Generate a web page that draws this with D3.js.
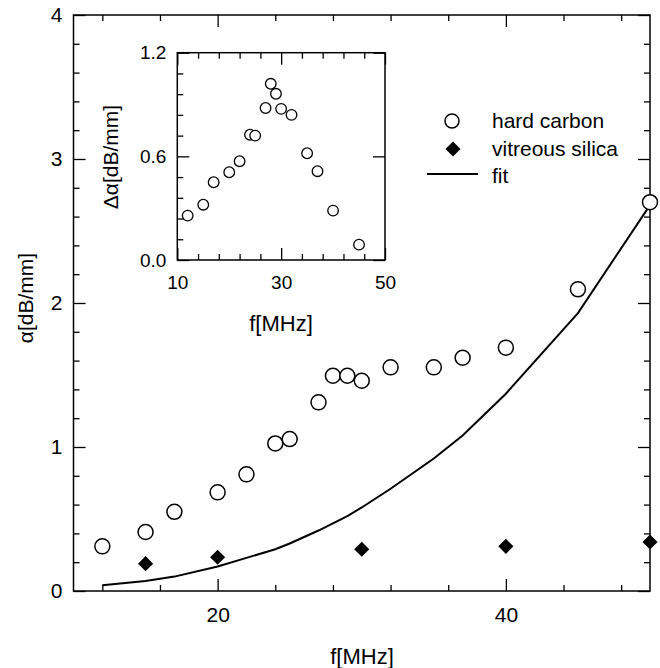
<!DOCTYPE html>
<html>
<head>
<meta charset="utf-8">
<script src="https://cdn.jsdelivr.net/npm/d3@7"></script>
<style>
  body { margin: 0; background: #fff; }
  svg { display: block; font-family: "Liberation Sans", Arial, Helvetica, sans-serif; }
  .domain { display: none; }
</style>
</head>
<body>
<svg id="chart" width="660" height="668"></svg>
<script>
// main plot: hard carbon (circles), vitreous silica (diamonds), fit (line)
const freqCarbon  = [12, 15, 17, 20, 22, 24, 25, 27, 28, 29, 30, 32, 35, 37, 40, 45, 50];
const alphaCarbon = [0.31, 0.41, 0.55, 0.685, 0.81, 1.025, 1.055, 1.31, 1.495, 1.495, 1.46, 1.553, 1.553, 1.62, 1.69, 2.095, 2.70];
const alphaFit    = [0.04, 0.07, 0.10, 0.17, 0.23, 0.29, 0.33, 0.42, 0.47, 0.52, 0.58, 0.71, 0.92, 1.08, 1.37, 1.93, 2.68];

const freqSilica  = [15, 20, 30, 40, 50];
const alphaSilica = [0.19, 0.234, 0.29, 0.31, 0.34];

// inset: delta alpha
const freqDelta  = [12, 15, 17, 20, 22, 24, 25, 27, 28, 29, 30, 32, 35, 37, 40, 45];
const deltaAlpha = [0.257, 0.32, 0.45, 0.508, 0.572, 0.725, 0.72, 0.88, 1.02, 0.962, 0.875, 0.84, 0.618, 0.514, 0.286, 0.089];

// ticks
const mainXMajor = [20, 40];
const mainXMinor = [12, 16, 24, 28, 32, 36, 44, 48];
const mainYMajor = [0, 1, 2, 3, 4];
const mainYMinor = [0.2, 0.4, 0.6, 0.8, 1.2, 1.4, 1.6, 1.8, 2.2, 2.4, 2.6, 2.8, 3.2, 3.4, 3.6, 3.8];
const insetXMajor = [10, 30, 50];
const insetXMinor = [14, 18, 22, 26, 34, 38, 42, 46];
const insetYMajor = [0.0, 0.6, 1.2];
const insetYMinor = [0.12, 0.24, 0.36, 0.48, 0.72, 0.84, 0.96, 1.08];

const legendItems = ["hard carbon", "vitreous silica", "fit"];

const svg = d3.select("#chart");

// 主图区域
const M = { left: 73.5, right: 650, top: 15, bottom: 591 };
const x = d3.scaleLinear().domain([10, 50]).range([M.left, M.right]);
const y = d3.scaleLinear().domain([0, 4]).range([M.bottom, M.top]);

// 插图区域
const I = { left: 177.3, right: 385, top: 52.7, bottom: 260 };
const xi = d3.scaleLinear().domain([10, 50]).range([I.left, I.right]);
const yi = d3.scaleLinear().domain([0, 1.2]).range([I.bottom, I.top]);

function styleAxis(g, size) {
    g.selectAll(".tick line").attr("stroke", "#000").attr("stroke-width", 1.3);
    g.selectAll(".tick text").attr("fill", "#000").attr("font-size", size)
        .attr("font-family", "Liberation Sans, Arial, Helvetica, sans-serif");
}

function drawAxes(X, Y, B, opts) {
    const fs = opts.fontSize;
    // bottom
    svg.append("g").attr("transform", `translate(0,${B.bottom})`)
        .call(d3.axisBottom(X).tickValues(opts.xMinor).tickSize(-opts.minor).tickFormat(""))
        .call(g => styleAxis(g, fs));
    svg.append("g").attr("transform", `translate(0,${B.bottom})`)
        .call(d3.axisBottom(X).tickValues(opts.xMajor).tickSize(-opts.major).tickPadding(opts.xPad).tickFormat(d3.format("d")))
        .call(g => styleAxis(g, fs));
    // top
    svg.append("g").attr("transform", `translate(0,${B.top})`)
        .call(d3.axisTop(X).tickValues(opts.xMinor).tickSize(-opts.minor).tickFormat(""))
        .call(g => styleAxis(g, fs));
    svg.append("g").attr("transform", `translate(0,${B.top})`)
        .call(d3.axisTop(X).tickValues(opts.xMajor).tickSize(-opts.major).tickFormat(""))
        .call(g => styleAxis(g, fs));
    // left
    svg.append("g").attr("transform", `translate(${B.left},0)`)
        .call(d3.axisLeft(Y).tickValues(opts.yMinor).tickSize(-opts.minor).tickFormat(""))
        .call(g => styleAxis(g, fs));
    svg.append("g").attr("transform", `translate(${B.left},0)`)
        .call(d3.axisLeft(Y).tickValues(opts.yMajor).tickSize(-opts.major).tickPadding(opts.yPad).tickFormat(opts.yFormat))
        .call(g => styleAxis(g, fs));
    // right
    if (opts.rightMinor) {
        svg.append("g").attr("transform", `translate(${B.right},0)`)
            .call(d3.axisRight(Y).tickValues(opts.yMinor).tickSize(-opts.minor).tickFormat(""))
            .call(g => styleAxis(g, fs));
    }
    svg.append("g").attr("transform", `translate(${B.right},0)`)
        .call(d3.axisRight(Y).tickValues(opts.yMajor).tickSize(-opts.major).tickFormat(""))
        .call(g => styleAxis(g, fs));
    // frame
    svg.append("rect")
        .attr("x", B.left).attr("y", B.top)
        .attr("width", B.right - B.left).attr("height", B.bottom - B.top)
        .attr("fill", "none").attr("stroke", "#000").attr("stroke-width", 1.5);
}

drawAxes(x, y, M, {
    xMajor: mainXMajor, xMinor: mainXMinor, yMajor: mainYMajor, yMinor: mainYMinor,
    minor: 6, major: 12, xPad: 16, yPad: 11, fontSize: 21,
    yFormat: d3.format("d"), rightMinor: true
});

// 主图标签
svg.append("text").attr("x", 362).attr("y", 664).attr("text-anchor", "middle")
    .attr("font-size", 22).text("f[MHz]");
svg.append("text").attr("transform", "translate(33,298) rotate(-90)")
    .attr("text-anchor", "middle").attr("font-size", 21).text("α[dB/mm]");

// fit 曲线
const fitLine = d3.line().x((d, i) => x(freqCarbon[i])).y(d => y(d));
svg.append("path").datum(alphaFit)
    .attr("d", fitLine).attr("fill", "none").attr("stroke", "#000").attr("stroke-width", 2);

// hard carbon
svg.append("g").selectAll("circle")
    .data(alphaCarbon)
    .enter().append("circle")
    .attr("cx", (d, i) => x(freqCarbon[i]))
    .attr("cy", d => y(d))
    .attr("r", 7.5)
    .attr("fill", "#fff").attr("stroke", "#000").attr("stroke-width", 1.5);

// vitreous silica
const diamond = d3.symbol().type(d3.symbolDiamond2).size(145);
svg.append("g").selectAll("path")
    .data(alphaSilica)
    .enter().append("path")
    .attr("d", diamond)
    .attr("transform", (d, i) => `translate(${x(freqSilica[i])},${y(d)})`)
    .attr("fill", "#000");

// 图例
const legend = svg.append("g");
legend.append("circle").attr("cx", 452).attr("cy", 121).attr("r", 7)
    .attr("fill", "#fff").attr("stroke", "#000").attr("stroke-width", 1.5);
legend.append("path").attr("d", diamond).attr("transform", "translate(453,149)").attr("fill", "#000");
legend.append("line").attr("x1", 427).attr("x2", 478).attr("y1", 174).attr("y2", 174)
    .attr("stroke", "#000").attr("stroke-width", 2);
legend.selectAll("text")
    .data(legendItems)
    .enter().append("text")
    .attr("x", 492)
    .attr("y", (d, i) => 128 + i * 27.5)
    .attr("font-size", 21)
    .text(d => d);

// 插图
svg.append("rect")
    .attr("x", I.left).attr("y", I.top)
    .attr("width", I.right - I.left).attr("height", I.bottom - I.top)
    .attr("fill", "#fff");

drawAxes(xi, yi, I, {
    xMajor: insetXMajor, xMinor: insetXMinor, yMajor: insetYMajor, yMinor: insetYMinor,
    minor: 6, major: 12, xPad: 16, yPad: 11, fontSize: 19,
    yFormat: d3.format(".1f"), rightMinor: false
});

svg.append("text").attr("x", 281).attr("y", 331).attr("text-anchor", "middle")
    .attr("font-size", 22).text("f[MHz]");
svg.append("text").attr("transform", "translate(118,157) rotate(-90)")
    .attr("text-anchor", "middle").attr("font-size", 21).text("Δα[dB/mm]");

svg.append("g").selectAll("circle")
    .data(deltaAlpha)
    .enter().append("circle")
    .attr("cx", (d, i) => xi(freqDelta[i]))
    .attr("cy", d => yi(d))
    .attr("r", 5.3)
    .attr("fill", "#fff").attr("stroke", "#000").attr("stroke-width", 1.3);
</script>
</body>
</html>
